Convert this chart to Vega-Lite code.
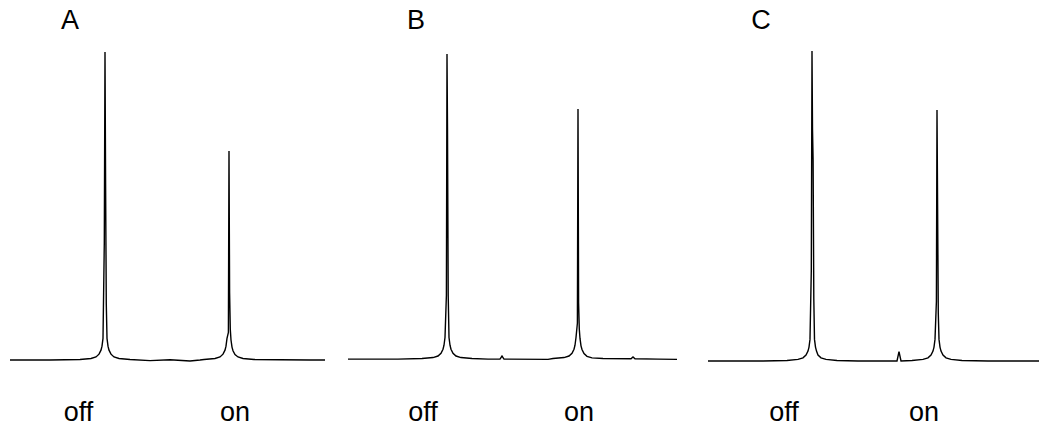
{
  "$schema": "https://vega.github.io/schema/vega-lite/v6.json",
  "padding": {"left": 7, "top": 0, "right": 7, "bottom": 0},
  "autosize": {"type": "pad"},
  "background": "white",
  "config": {"view": {"stroke": null}, "concat": {"spacing": 7}},
  "datasets": {
    "spectra": [
      {"panel": "A", "x": 0, "y": 0}, {"panel": "A", "x": 40, "y": 0}, {"panel": "A", "x": 70, "y": 0.0016},
      {"panel": "A", "x": 81, "y": 0.005}, {"panel": "A", "x": 86, "y": 0.01}, {"panel": "A", "x": 89, "y": 0.019},
      {"panel": "A", "x": 91, "y": 0.032}, {"panel": "A", "x": 92, "y": 0.045}, {"panel": "A", "x": 93, "y": 0.07},
      {"panel": "A", "x": 94.3, "y": 0.38}, {"panel": "A", "x": 95, "y": 1.0}, {"panel": "A", "x": 95.6, "y": 0.57},
      {"panel": "A", "x": 96.3, "y": 0.18}, {"panel": "A", "x": 97, "y": 0.07}, {"panel": "A", "x": 98, "y": 0.045},
      {"panel": "A", "x": 99, "y": 0.032}, {"panel": "A", "x": 101, "y": 0.019}, {"panel": "A", "x": 104, "y": 0.01},
      {"panel": "A", "x": 109, "y": 0.005}, {"panel": "A", "x": 120, "y": 0.0016}, {"panel": "A", "x": 140, "y": -0.002},
      {"panel": "A", "x": 160, "y": 0.001}, {"panel": "A", "x": 180, "y": -0.003}, {"panel": "A", "x": 190, "y": 0},
      {"panel": "A", "x": 194, "y": 0.0016}, {"panel": "A", "x": 205, "y": 0.005}, {"panel": "A", "x": 210, "y": 0.01},
      {"panel": "A", "x": 213, "y": 0.019}, {"panel": "A", "x": 215, "y": 0.032}, {"panel": "A", "x": 216, "y": 0.045},
      {"panel": "A", "x": 217, "y": 0.07}, {"panel": "A", "x": 218.4, "y": 0.09}, {"panel": "A", "x": 219, "y": 0.679},
      {"panel": "A", "x": 219.6, "y": 0.22}, {"panel": "A", "x": 220.3, "y": 0.1}, {"panel": "A", "x": 221, "y": 0.065},
      {"panel": "A", "x": 222, "y": 0.042}, {"panel": "A", "x": 223, "y": 0.03}, {"panel": "A", "x": 225, "y": 0.018},
      {"panel": "A", "x": 228, "y": 0.01}, {"panel": "A", "x": 233, "y": 0.005}, {"panel": "A", "x": 244, "y": 0.0016},
      {"panel": "A", "x": 270, "y": 0.001}, {"panel": "A", "x": 300, "y": 0}, {"panel": "A", "x": 315, "y": 0},

      {"panel": "B", "x": 0, "y": 0.003}, {"panel": "B", "x": 50, "y": 0.003}, {"panel": "B", "x": 74, "y": 0.005},
      {"panel": "B", "x": 85, "y": 0.008}, {"panel": "B", "x": 90, "y": 0.013}, {"panel": "B", "x": 93, "y": 0.022},
      {"panel": "B", "x": 95, "y": 0.035}, {"panel": "B", "x": 96, "y": 0.048}, {"panel": "B", "x": 97, "y": 0.073},
      {"panel": "B", "x": 98.4, "y": 0.21}, {"panel": "B", "x": 99, "y": 0.994}, {"panel": "B", "x": 99.5, "y": 0.75},
      {"panel": "B", "x": 100.2, "y": 0.21}, {"panel": "B", "x": 101, "y": 0.073}, {"panel": "B", "x": 102, "y": 0.048},
      {"panel": "B", "x": 103, "y": 0.035}, {"panel": "B", "x": 105, "y": 0.022}, {"panel": "B", "x": 108, "y": 0.013},
      {"panel": "B", "x": 113, "y": 0.008}, {"panel": "B", "x": 124, "y": 0.005}, {"panel": "B", "x": 140, "y": 0.003},
      {"panel": "B", "x": 152, "y": 0.003}, {"panel": "B", "x": 154, "y": 0.013}, {"panel": "B", "x": 156, "y": 0.003},
      {"panel": "B", "x": 200, "y": 0.002}, {"panel": "B", "x": 205, "y": 0.005}, {"panel": "B", "x": 216, "y": 0.008},
      {"panel": "B", "x": 221, "y": 0.013}, {"panel": "B", "x": 224, "y": 0.022}, {"panel": "B", "x": 226, "y": 0.035},
      {"panel": "B", "x": 227, "y": 0.048}, {"panel": "B", "x": 228, "y": 0.073}, {"panel": "B", "x": 229.4, "y": 0.12},
      {"panel": "B", "x": 230, "y": 0.815}, {"panel": "B", "x": 230.6, "y": 0.185}, {"panel": "B", "x": 231.3, "y": 0.1},
      {"panel": "B", "x": 232, "y": 0.07}, {"panel": "B", "x": 233, "y": 0.046}, {"panel": "B", "x": 234, "y": 0.034},
      {"panel": "B", "x": 236, "y": 0.021}, {"panel": "B", "x": 239, "y": 0.012}, {"panel": "B", "x": 244, "y": 0.007},
      {"panel": "B", "x": 255, "y": 0.005}, {"panel": "B", "x": 283, "y": 0.004}, {"panel": "B", "x": 285, "y": 0.01},
      {"panel": "B", "x": 287, "y": 0.004}, {"panel": "B", "x": 310, "y": 0.003}, {"panel": "B", "x": 329, "y": 0.002},

      {"panel": "C", "x": 0, "y": -0.003}, {"panel": "C", "x": 55, "y": -0.003}, {"panel": "C", "x": 79, "y": -0.0015},
      {"panel": "C", "x": 90, "y": 0.002}, {"panel": "C", "x": 95, "y": 0.007}, {"panel": "C", "x": 98, "y": 0.016},
      {"panel": "C", "x": 100, "y": 0.029}, {"panel": "C", "x": 101, "y": 0.042}, {"panel": "C", "x": 102, "y": 0.067},
      {"panel": "C", "x": 103.3, "y": 0.29}, {"panel": "C", "x": 104, "y": 1.003}, {"panel": "C", "x": 104.5, "y": 0.75},
      {"panel": "C", "x": 105.1, "y": 0.65}, {"panel": "C", "x": 105.8, "y": 0.2}, {"panel": "C", "x": 106.5, "y": 0.067},
      {"panel": "C", "x": 107.5, "y": 0.042}, {"panel": "C", "x": 108.5, "y": 0.029}, {"panel": "C", "x": 110, "y": 0.016},
      {"panel": "C", "x": 113, "y": 0.007}, {"panel": "C", "x": 118, "y": 0.002}, {"panel": "C", "x": 129, "y": -0.0015},
      {"panel": "C", "x": 150, "y": -0.003}, {"panel": "C", "x": 189, "y": -0.003}, {"panel": "C", "x": 191, "y": 0.027},
      {"panel": "C", "x": 193, "y": -0.003}, {"panel": "C", "x": 204, "y": -0.0015}, {"panel": "C", "x": 215, "y": 0.002},
      {"panel": "C", "x": 220, "y": 0.007}, {"panel": "C", "x": 223, "y": 0.016}, {"panel": "C", "x": 225, "y": 0.029},
      {"panel": "C", "x": 226, "y": 0.042}, {"panel": "C", "x": 227, "y": 0.067}, {"panel": "C", "x": 228.4, "y": 0.19},
      {"panel": "C", "x": 229, "y": 0.812}, {"panel": "C", "x": 229.6, "y": 0.5}, {"panel": "C", "x": 230.3, "y": 0.15},
      {"panel": "C", "x": 231, "y": 0.067}, {"panel": "C", "x": 232, "y": 0.042}, {"panel": "C", "x": 233, "y": 0.029},
      {"panel": "C", "x": 235, "y": 0.016}, {"panel": "C", "x": 238, "y": 0.007}, {"panel": "C", "x": 243, "y": 0.002},
      {"panel": "C", "x": 254, "y": -0.0015}, {"panel": "C", "x": 280, "y": -0.003}, {"panel": "C", "x": 331, "y": -0.003}
    ],
    "labels": [
      {"panel": "A", "x": 60, "y": 1.075, "text": "A"},
      {"panel": "A", "x": 68.5, "y": -0.198, "text": "off"},
      {"panel": "A", "x": 225, "y": -0.198, "text": "on"},
      {"panel": "B", "x": 68, "y": 1.075, "text": "B"},
      {"panel": "B", "x": 75, "y": -0.198, "text": "off"},
      {"panel": "B", "x": 231, "y": -0.198, "text": "on"},
      {"panel": "C", "x": 53, "y": 1.075, "text": "C"},
      {"panel": "C", "x": 76, "y": -0.198, "text": "off"},
      {"panel": "C", "x": 216, "y": -0.198, "text": "on"}
    ]
  },
  "hconcat": [
    {
      "width": 328, "height": 429,
      "layer": [
        {
          "data": {"name": "spectra"},
          "transform": [{"filter": "datum.panel === 'A'"}],
          "mark": {"type": "line", "color": "black", "strokeWidth": 1.4},
          "encoding": {
            "x": {"field": "x", "type": "quantitative", "scale": {"domain": [0, 328], "nice": false, "zero": false}, "axis": null},
            "y": {"field": "y", "type": "quantitative", "scale": {"domain": [-0.224, 1.169], "nice": false, "zero": false}, "axis": null}
          }
        },
        {
          "data": {"name": "labels"},
          "transform": [{"filter": "datum.panel === 'A'"}],
          "mark": {"type": "text", "font": "Liberation Sans", "fontSize": 27, "baseline": "alphabetic", "align": "center", "color": "black"},
          "encoding": {
            "x": {"field": "x", "type": "quantitative"},
            "y": {"field": "y", "type": "quantitative"},
            "text": {"field": "text"}
          }
        }
      ]
    },
    {
      "width": 350, "height": 429,
      "layer": [
        {
          "data": {"name": "spectra"},
          "transform": [{"filter": "datum.panel === 'B'"}],
          "mark": {"type": "line", "color": "black", "strokeWidth": 1.4},
          "encoding": {
            "x": {"field": "x", "type": "quantitative", "scale": {"domain": [0, 350], "nice": false, "zero": false}, "axis": null},
            "y": {"field": "y", "type": "quantitative", "scale": {"domain": [-0.224, 1.169], "nice": false, "zero": false}, "axis": null}
          }
        },
        {
          "data": {"name": "labels"},
          "transform": [{"filter": "datum.panel === 'B'"}],
          "mark": {"type": "text", "font": "Liberation Sans", "fontSize": 27, "baseline": "alphabetic", "align": "center", "color": "black"},
          "encoding": {
            "x": {"field": "x", "type": "quantitative"},
            "y": {"field": "y", "type": "quantitative"},
            "text": {"field": "text"}
          }
        }
      ]
    },
    {
      "width": 335, "height": 429,
      "layer": [
        {
          "data": {"name": "spectra"},
          "transform": [{"filter": "datum.panel === 'C'"}],
          "mark": {"type": "line", "color": "black", "strokeWidth": 1.4},
          "encoding": {
            "x": {"field": "x", "type": "quantitative", "scale": {"domain": [0, 335], "nice": false, "zero": false}, "axis": null},
            "y": {"field": "y", "type": "quantitative", "scale": {"domain": [-0.224, 1.169], "nice": false, "zero": false}, "axis": null}
          }
        },
        {
          "data": {"name": "labels"},
          "transform": [{"filter": "datum.panel === 'C'"}],
          "mark": {"type": "text", "font": "Liberation Sans", "fontSize": 27, "baseline": "alphabetic", "align": "center", "color": "black"},
          "encoding": {
            "x": {"field": "x", "type": "quantitative"},
            "y": {"field": "y", "type": "quantitative"},
            "text": {"field": "text"}
          }
        }
      ]
    }
  ]
}
